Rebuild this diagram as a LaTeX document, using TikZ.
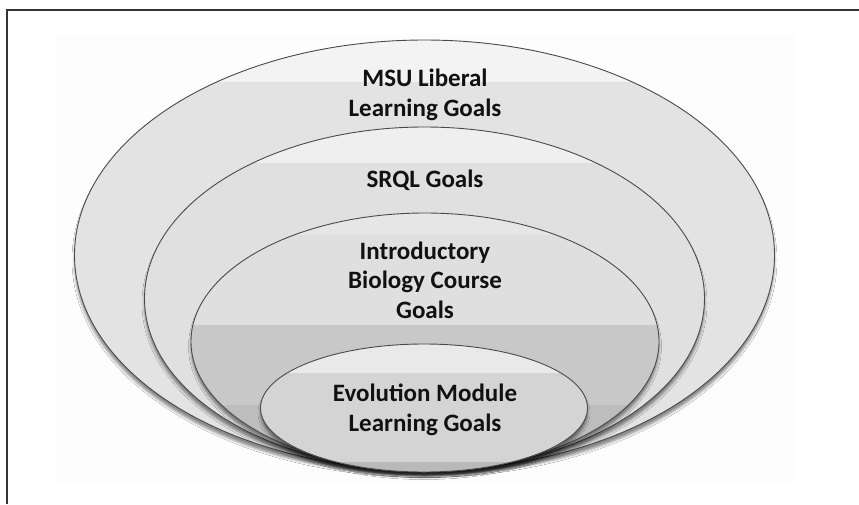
\documentclass[tikz,border=0pt]{standalone}
\usepackage{fontspec}
\setmainfont{Carlito}
\usetikzlibrary{shadows.blur}
\definecolor{ring}{HTML}{4A4A4A}
\definecolor{txt}{HTML}{111111}
\definecolor{faint}{HTML}{FDFDFD}
\definecolor{eAtop}{HTML}{F3F3F3}
\definecolor{eAbase}{HTML}{E3E3E3}
\definecolor{eBtop}{HTML}{EFEFEF}
\definecolor{eBbase}{HTML}{E0E0E0}
\definecolor{eCtop}{HTML}{E6E6E6}
\definecolor{eCbase}{HTML}{DFDFDF}
\definecolor{eCdark}{HTML}{C8C8C8}
\definecolor{eCbot}{HTML}{BDBDBD}
\definecolor{eDtop}{HTML}{E9E9E9}
\definecolor{eDbase}{HTML}{D4D4D4}
\definecolor{eDbot}{HTML}{B9B9B9}
\tikzset{
  ringline/.style={draw=ring, line width=0.9pt},
  softshadow/.style={blur shadow={shadow xshift=0pt, shadow yshift=-5pt, shadow blur radius=2.5pt, shadow opacity=45}},
  lbl/.style={text=txt, align=center, font=\bfseries\fontsize{25}{29.5}\selectfont, inner sep=0pt},
  framelines/.style={draw=black!80, line width=1.3pt}
}
\begin{document}
\begin{tikzpicture}[x=1pt,y=-1pt]
\useasboundingbox (0,0) rectangle (859,504);
\fill[faint] (55,34) rectangle (795,483);
\draw[framelines] (7,504) -- (7,10) -- (859,10);
% outer ellipse
\fill[eAbase, softshadow] (424.5,255) ellipse [x radius=350, y radius=215];
\begin{scope}
  \clip (424.5,255) ellipse [x radius=350, y radius=215];
  \fill[eAtop] (0,0) rectangle (859,82);
\end{scope}
\draw[ringline] (424.5,255) ellipse [x radius=350, y radius=215];
% SRQL ellipse
\fill[eBbase, softshadow] (424.5,298.5) ellipse [x radius=280, y radius=171.5];
\begin{scope}
  \clip (424.5,298.5) ellipse [x radius=280, y radius=171.5];
  \fill[eBtop] (0,0) rectangle (859,163);
\end{scope}
\draw[ringline] (424.5,298.5) ellipse [x radius=280, y radius=171.5];
% Intro bio ellipse
\fill[eCbase, softshadow] (425,341.5) ellipse [x radius=234, y radius=128.5];
\begin{scope}
  \clip (425,341.5) ellipse [x radius=234, y radius=128.5];
  \fill[eCtop] (0,0) rectangle (859,235);
  \fill[eCdark] (0,325) rectangle (859,405);
  \fill[eCbot] (0,405) rectangle (859,504);
\end{scope}
\draw[ringline] (425,341.5) ellipse [x radius=234, y radius=128.5];
% Evolution ellipse
\fill[eDbase, softshadow] (424,408) ellipse [x radius=163.5, y radius=64];
\begin{scope}
  \clip (424,408) ellipse [x radius=163.5, y radius=64];
  \fill[eDtop] (0,0) rectangle (859,373);
  \fill[eDbot] (0,462) rectangle (859,504);
\end{scope}
\draw[ringline] (424,408) ellipse [x radius=163.5, y radius=64];
% labels
\node[lbl] (msu) at (425,95) {MSU Liberal\\Learning Goals};
\node[lbl] (srql) at (425,180) {SRQL Goals};
\node[lbl] (intro) at (425,280) {Introductory\\Biology Course\\Goals};
\node[lbl] (evo) at (425,410) {Evolution Module\\Learning Goals};
\end{tikzpicture}
\end{document}
